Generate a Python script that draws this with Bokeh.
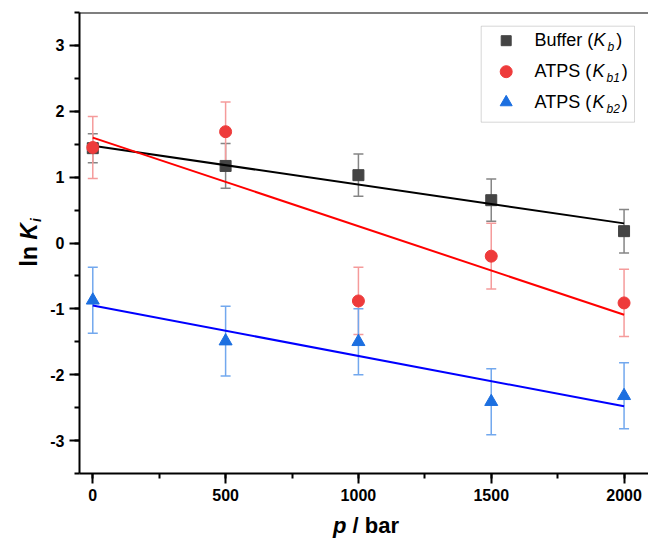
import math
from bokeh.plotting import figure
from bokeh.layouts import row, column
from bokeh.models import (ColumnDataSource, Whisker, TeeHead, Label, BoxAnnotation,
                          Span, SingleIntervalTicker, Range1d, CustomJSTickFormatter)
from bokeh.embed import file_html
from bokeh.resources import INLINE

# ---------------- data ----------------
pressure = [0, 500, 1000, 1500, 2000]
lnK_buffer = [1.44, 1.17, 1.03, 0.65, 0.18]
err_buffer = [0.22, 0.34, 0.32, 0.32, 0.33]
lnK_atps1 = [1.45, 1.69, -0.88, -0.20, -0.91]
err_atps1 = [0.47, 0.45, 0.51, 0.50, 0.51]
lnK_atps2 = [-0.87, -1.49, -1.50, -2.41, -2.32]
err_atps2 = [0.50, 0.53, 0.50, 0.50, 0.50]
fit_intercept = [1.476, 1.60, -0.95]
fit_slope = [-5.89e-4, -1.345e-3, -7.65e-4]
x_ticks_interval = 500
y_ticks_interval = 1

XR = (-50, 2092)
YR = (-3.5, 3.5)

FONT = "Liberation Sans"
MID = 0.3465   # distance (in em) between the text's middle line and its baseline

# page layout (pixels)
W, H = 648, 539
STRIP_W = 46            # left strip holding the y title
MAIN_H = 510            # main figure height; bottom strip holds the x title
FL, FR, FT, FB = 79.0, 648.0, 12.0, 473.0   # frame on the page


def blank(width, height, xr, yr, left=0):
    f = figure(width=width, height=height, x_range=Range1d(*xr), y_range=Range1d(*yr),
               output_backend="svg", toolbar_location=None, title=None,
               x_axis_type=None, y_axis_type=None,
               min_border_left=left, min_border_right=0, min_border_top=0, min_border_bottom=0)
    f.outline_line_color = None
    f.xgrid.visible = False
    f.ygrid.visible = False
    f.border_fill_color = "white"
    f.background_fill_color = "white"
    return f


p = figure(width=W - STRIP_W, height=MAIN_H, x_range=Range1d(*XR), y_range=Range1d(*YR),
           output_backend="svg", toolbar_location=None, title=None,
           min_border_left=int(FL - STRIP_W), min_border_right=int(W - FR),
           min_border_top=int(FT), min_border_bottom=int(MAIN_H - FB))
p.outline_line_color = None
p.xgrid.visible = False
p.ygrid.visible = False
p.background_fill_color = "white"

# page-pixel -> data helpers for the main frame
def X(px):
    return XR[0] + (px - FL) * (XR[1] - XR[0]) / (FR - FL)
def Y(py):
    return YR[1] - (py - FT) * (YR[1] - YR[0]) / (FB - FT)

for ax, tk in ((p.xaxis[0], SingleIntervalTicker(interval=x_ticks_interval, num_minor_ticks=2)),
               (p.yaxis[0], SingleIntervalTicker(interval=y_ticks_interval, num_minor_ticks=2))):
    ax.ticker = tk
    ax.formatter = CustomJSTickFormatter(code="return String(tick);")
    ax.axis_line_width = 2
    ax.major_tick_line_width = 2
    ax.minor_tick_line_width = 2
    ax.major_tick_in = 0
    ax.major_tick_out = 10
    ax.minor_tick_in = 0
    ax.minor_tick_out = 5
    ax.major_label_text_font = FONT
    ax.major_label_text_font_size = "16px"
    ax.major_label_text_font_style = "bold"
    ax.major_label_text_color = "black"
    ax.major_label_standoff = 5
    ax.axis_label = None

p.add_layout(Span(location=YR[1], dimension="width", line_color="black", line_width=2))

# ---------------- error bars ----------------
def add_err(vals, errs, color):
    src = ColumnDataSource(dict(x=pressure,
                                lo=[v - e for v, e in zip(vals, errs)],
                                hi=[v + e for v, e in zip(vals, errs)]))
    w = Whisker(source=src, base="x", lower="lo", upper="hi", level="underlay",
                line_color=color, line_width=1.5,
                upper_head=TeeHead(size=10, line_color=color, line_width=1.5),
                lower_head=TeeHead(size=10, line_color=color, line_width=1.5))
    p.add_layout(w)

add_err(lnK_buffer, err_buffer, "#858585")
add_err(lnK_atps1, err_atps1, "#f59b9b")
add_err(lnK_atps2, err_atps2, "#72a8ee")

SQ, CI, TR = "#444444", "#ee3b3b", "#1c6fe0"

def fit_line(i):
    xs = [pressure[0], pressure[-1]]
    return xs, [fit_intercept[i] + fit_slope[i] * x for x in xs]

p.scatter(pressure, lnK_buffer, marker="square", size=11, fill_color=SQ, line_color=SQ)
xs, ys = fit_line(0)
p.line(xs, ys, line_color="black", line_width=2)
p.scatter(pressure, lnK_atps1, marker="circle", size=12, fill_color=CI, line_color=CI)
p.scatter(pressure, lnK_atps2, marker="triangle", size=13, fill_color=TR, line_color=TR)
xs, ys = fit_line(1)
p.line(xs, ys, line_color="#ff0000", line_width=2)
xs, ys = fit_line(2)
p.line(xs, ys, line_color="#0000ff", line_width=2)

# ---------------- rich text helper ----------------
W_REG = {' ': 278, '(': 333, ')': 333, 'A': 667, 'B': 667, 'K': 667, 'P': 667, 'S': 667,
         'T': 611, 'b': 556, 'e': 556, 'f': 278, 'r': 333, 'u': 556, '1': 556, '2': 556,
         'i': 222, 'l': 222, 'n': 556, 'p': 556, '/': 278, 'a': 556}
W_BOLD = {' ': 278, 'l': 278, 'n': 611, 'K': 722, 'i': 278, 'p': 611, '/': 278,
          'b': 611, 'a': 556, 'r': 389}

def tw(s, size, bold):
    t = W_BOLD if bold else W_REG
    return sum(t.get(c, 556) for c in s) * size / 1000.0

def rich(fig, fx, fy, pieces, x0, y0, rotate=False, color="black"):
    """pieces: (text, size, bold, italic, baseline shift down, gap after); x0,y0 = baseline start"""
    adv = 0.0
    for text, size, bold, italic, shift, gap in pieces:
        style = ("bold " if bold else "") + ("italic" if italic else "")
        style = style.strip() or "normal"
        mid = MID * size
        if rotate:
            lx, ly, ang = x0 + shift - mid, y0 - adv, math.pi / 2
        else:
            lx, ly, ang = x0 + adv, y0 + shift - mid, 0.0
        fig.add_layout(Label(x=fx(lx), y=fy(ly), text=text, angle=ang,
                             text_font=FONT, text_font_size=f"{size}px",
                             text_font_style=style, text_color=color,
                             text_align="left", text_baseline="middle"))
        adv += tw(text, size, bold) + gap

# ---------------- legend (inside the frame) ----------------
p.add_layout(BoxAnnotation(left=X(480.7), right=X(634), top=Y(25.7), bottom=Y(121.7),
                           fill_color="white", fill_alpha=1.0,
                           line_color="#7a7a7a", line_width=1, level="underlay"))
leg_names = ["Buffer (", "ATPS (", "ATPS ("]
leg_subs = ["b", "b1", "b2"]
leg_marker = [("square", 10, SQ), ("circle", 12, CI), ("triangle", 12, TR)]
leg_base = [45.7, 76.7, 107.3]
for name, sub, (mk, sz, col), bl in zip(leg_names, leg_subs, leg_marker, leg_base):
    p.scatter([X(505.7)], [Y(bl - 5.5)], marker=mk, size=sz, fill_color=col, line_color=col)
    rich(p, X, Y, [(name, 18, False, False, 0, 0),
                   ("K", 18, False, True, 0, 2),
                   (sub, 12, False, True, 5, 2),
                   (")", 18, False, False, 0, 0)], 534, bl)

# ---------------- axis titles in their own strips ----------------
ylab = blank(STRIP_W, H, (0, STRIP_W), (H, 0))          # data == page pixels
rich(ylab, lambda v: v, lambda v: v,
     [("ln", 23, True, False, 0, tw(" ", 23, True)),
      ("K", 23, True, True, 0, 1),
      ("i", 14, True, True, 4, 0)], 36, 266, rotate=True)

# the bottom strip's frame is aligned with the main frame (page x 79..648)
xlab = blank(W - STRIP_W, H - MAIN_H, (FL, W), (H, MAIN_H), left=int(FL - STRIP_W))
xw = tw("p / bar", 22, True)
rich(xlab, lambda v: v, lambda v: v,
     [("p", 22, True, True, 0, tw(" ", 22, True)),
      ("/ bar", 22, True, False, 0, 0)], 365.5 - xw / 2, 533)

layout = row(ylab, column(p, xlab, spacing=0), spacing=0)

open("out.html", "w").write(file_html(layout, INLINE))
